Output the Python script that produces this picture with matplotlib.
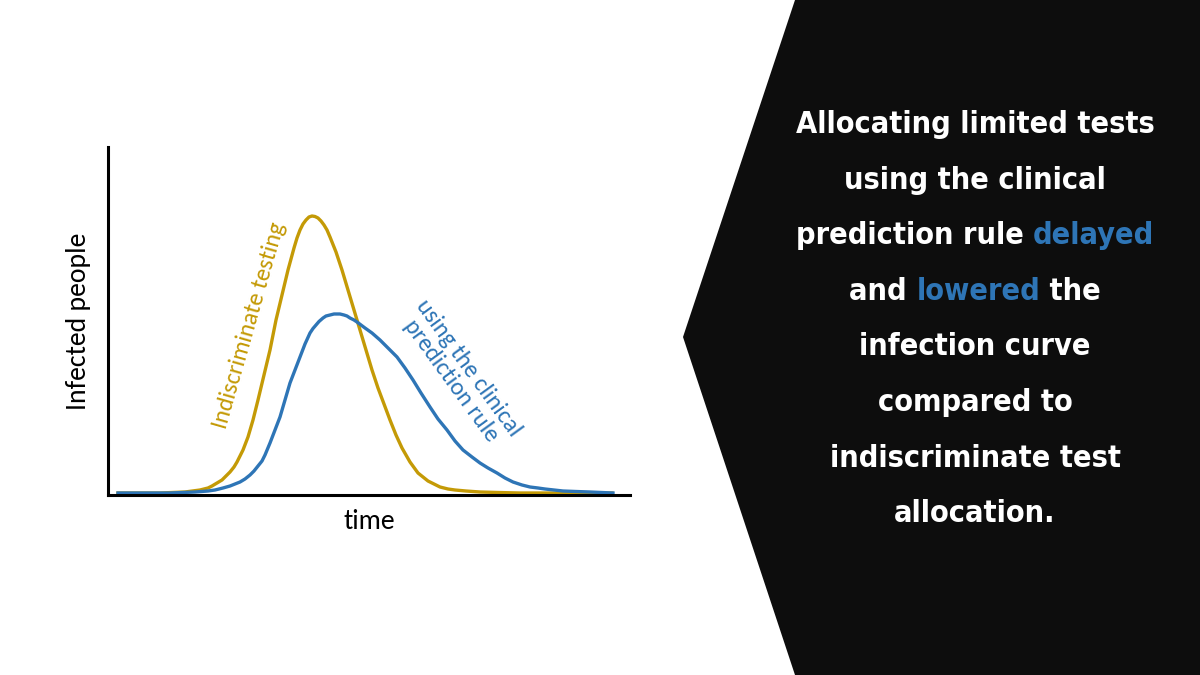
import matplotlib
matplotlib.use("Agg")
import matplotlib.pyplot as plt
from matplotlib.patches import Polygon
from matplotlib import font_manager
from matplotlib.font_manager import FontProperties

# curves: time vs infected people (arbitrary units)
t_indisc = [10, 52, 77, 92, 100, 104, 109, 114, 118, 122, 126, 129, 132, 135, 140,
            145, 150, 156, 162, 168, 174, 180, 186, 189, 192, 195, 198, 201, 204,
            207, 210, 213, 216, 219, 222, 228, 234, 240, 246, 252, 258, 264, 270,
            276, 282, 288, 294, 302, 310, 315, 320, 326, 332, 340, 347, 358, 372,
            390, 412, 504]
y_indisc = [2, 2, 3, 5, 7, 9, 12, 15, 19, 23, 28, 33, 39, 45, 58,
            75, 95, 120, 145, 175, 200, 225, 247, 257, 265, 271, 275, 278, 279,
            278.5, 277, 274, 270, 265, 258, 243, 225, 205, 185, 165, 145, 125, 107,
            91, 75, 60, 47, 33, 22, 18, 14, 11, 8, 6, 5, 4, 3,
            2.5, 2, 2]

t_rule = [10, 62, 87, 100, 107, 115, 122, 127, 132, 137, 142, 146, 150, 154, 157,
          162, 167, 172, 177, 182, 187, 192, 197, 202, 205, 208, 211, 215, 218,
          222, 226, 229, 232, 236, 239, 242, 246, 249, 253, 257, 264, 272, 280,
          289, 297, 305, 313, 322, 330, 339, 347, 355, 364, 372, 380, 389, 397,
          405, 414, 422, 430, 437, 446, 455, 468, 482, 505]
y_rule = [2, 2, 3, 4, 5, 7, 9, 11, 13, 16, 20, 24, 29, 34, 40,
          52, 65, 78, 95, 112, 125, 138, 151, 162, 166.5, 170, 173.5, 177, 179,
          180, 181, 181, 181, 180, 179, 177, 175, 173, 170, 167, 162, 155, 147,
          138, 127, 115, 102, 88, 76, 65, 54, 45, 38, 32, 27, 22, 17,
          13, 10, 8, 7, 6, 5, 4, 3.5, 3, 2]

gold = "#C49A06"
blue = "#2E75B6"

# right-hand message, one list of (text, colour) segments per line
message = [
    [("Allocating limited tests", "white")],
    [("using the clinical", "white")],
    [("prediction rule ", "white"), ("delayed", blue)],
    [("and ", "white"), ("lowered", blue), (" the", "white")],
    [("infection curve", "white")],
    [("compared to", "white")],
    [("indiscriminate test", "white")],
    [("allocation.", "white")],
]

W, H = 1200, 675
fig = plt.figure(figsize=(12, 6.75), dpi=100)
fig.patch.set_facecolor("white")

# black arrow-shaped panel on the right
panel = Polygon([(795 / W, 1), (1, 1), (1, 0), (795 / W, 0), (683 / W, 1 - 337 / H)],
                closed=True, transform=fig.transFigure, facecolor="#0D0D0D",
                edgecolor="none")
fig.patches.append(panel)

ax = fig.add_axes([108 / W, 1 - 495 / H, (630 - 108) / W, (495 - 147) / H])
ax.plot(t_indisc, y_indisc, color=gold, lw=2.4, solid_joinstyle="round")
ax.plot(t_rule, y_rule, color=blue, lw=2.4, solid_joinstyle="round")
ax.set_xlim(0, 522)
ax.set_ylim(0, 348)
ax.set_xticks([])
ax.set_yticks([])
for s in ["top", "right"]:
    ax.spines[s].set_visible(False)
for s in ["left", "bottom"]:
    ax.spines[s].set_linewidth(2.2)

lab_font = ["Carlito", "Lato", "DejaVu Sans"]
ax.set_xlabel("time", fontsize=20, family=lab_font, style="normal", labelpad=10)
ax.set_ylabel("Infected people", fontsize=20, family=lab_font, style="normal",
              labelpad=12)

ax.text(141, 170, "Indiscriminate testing", color=gold, fontsize=17.5,
        family=lab_font, style="normal", rotation=74, ha="center", va="center",
        rotation_mode="anchor")
ax.text(352, 121, "using the clinical\nprediction rule", color=blue,
        fontsize=17.5, family=lab_font, style="normal", rotation=-54,
        ha="center", va="center", multialignment="center",
        rotation_mode="anchor", linespacing=1.05)

# pick a condensed bold face for the message if one is installed
cands = [f for f in font_manager.fontManager.ttflist
         if ("Condensed" in f.name or "Narrow" in f.name
             or f.stretch in ("condensed", "semi-condensed", "extra-condensed"))
         and f.weight in ("bold", 700, "semibold", 600)]
if cands:
    msg_prop = FontProperties(fname=cands[0].fname, size=22)
else:
    msg_prop = FontProperties(family="Roboto", weight="bold", size=21)
renderer = fig.canvas.get_renderer()


def text_width(s):
    t = fig.text(0, 0, s + "l", fontproperties=msg_prop)
    ref = fig.text(0, 0, "l", fontproperties=msg_prop)
    w = t.get_window_extent(renderer).width - ref.get_window_extent(renderer).width
    t.remove()
    ref.remove()
    return w


cx = 975
base0, step = 133, 55.6
for i, line in enumerate(message):
    full = "".join(seg for seg, _ in line)
    left = cx - text_width(full) / 2
    prefix = ""
    for seg, col in line:
        x = left + text_width(prefix)
        fig.text(x / W, 1 - (base0 + i * step) / H, seg, color=col,
                 fontproperties=msg_prop, ha="left", va="baseline")
        prefix += seg

fig.savefig("out.png", dpi=100)
